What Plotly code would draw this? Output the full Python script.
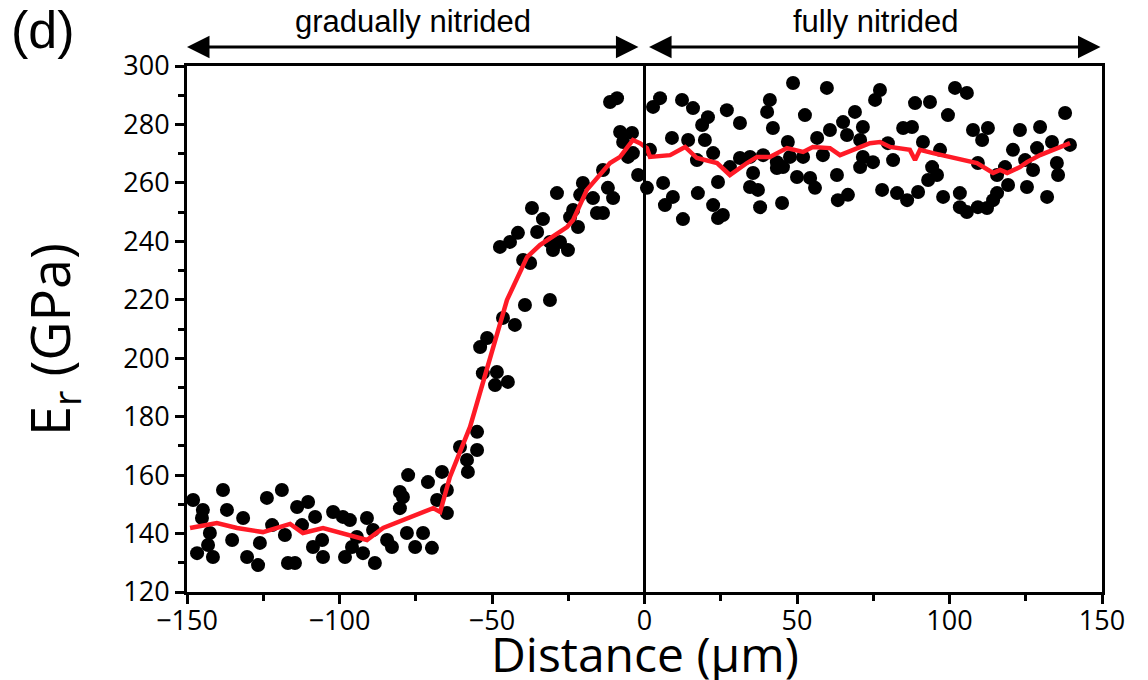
import plotly.graph_objects as go

# Scatter data: distance (µm) and reduced modulus Er (GPa)
dist = [
    -148.0, -146.7, -144.8, -145.1, -141.5, -142.5, -143.1, -138.2, -136.9, -135.2,
    -131.6, -130.3, -126.7, -126.1, -123.8, -118.9, -122.1, -117.9, -116.9, -114.6,
    -113.9, -110.3, -112.3, -108.0, -108.7, -105.7, -105.4, -102.1, -98.9, -96.6,
    -98.2, -95.9, -91.0, -94.3, -92.3, -89.0, -88.4, -84.4, -82.8, -80.2,
    -79.2, -80.2, -77.5, -77.9, -75.2, -72.6, -71.0, -69.7, -68.0, -66.4,
    -64.8, -64.8,
    -11.3, -9.0, -8.0, -4.1, -7.0, -3.8, -5.4, -2.1, 0.8, -13.6,
    -20.2, -21.1, -12.0, -10.3, -16.9, -15.6, -13.6, -23.4, -24.4, -21.8,
    -28.7, -36.9, -33.3, -35.2, -41.5, -44.1, -47.4, -31.0, -30.0, -25.1,
    -27.7, -39.8, -37.5, -39.2, -31.0, -46.4, -42.5, -51.6, -53.9, -53.0,
    -48.4, -49.0, -44.8, -54.9, -60.5, -54.9, -58.2, -57.9,
    5.1, 2.8, 12.3, 15.9, 20.8, 18.9, 27.0, 31.3, 48.7, 59.8,
    41.1, 40.2, 42.1, 52.6, 69.0, 65.1, 71.6, 60.8, 56.6, 66.4,
    9.0, 14.3, 19.8, 47.0, 1.8, 22.5, 31.3, 34.6, 38.9, 17.2,
    28.0, 43.4, 47.7, 52.0, 58.5, 70.7, 43.4, 45.4, 35.6, 50.0,
    54.3, 63.1, 6.1, 24.1, 34.6, 37.2, 55.9, 9.3, 17.5, 6.7,
    22.5, 25.7, 24.1, 12.6, 37.9, 45.1, 63.4, 66.7,
    77.2, 75.6, 88.7, 93.6, 101.8, 105.7, 99.5, 84.8, 87.7, 107.7,
    112.6, 110.7, 123.1, 129.7, 137.9, 70.7, 79.8, 91.3, 96.9, 120.8,
    128.7, 133.6, 139.5, 71.6, 74.9, 81.5, 94.3, 109.3, 118.2, 124.8,
    127.4, 135.2, 135.6, 95.9, 93.0, 115.6, 119.2, 125.4, 77.9, 82.8,
    86.1, 89.7, 97.9, 103.4, 103.4, 105.7, 109.3, 112.3, 114.3, 115.6,
    132.0,
]
modulus = [
    151.5, 133.3, 148.1, 145.3, 132.0, 140.2, 136.1, 154.9, 148.1, 137.8,
    145.3, 132.0, 129.2, 136.8, 152.2, 154.9, 142.9, 139.5, 129.9, 129.9,
    149.1, 150.8, 142.9, 145.7, 135.4, 137.8, 132.0, 147.4, 145.7, 144.6,
    132.0, 135.4, 145.3, 138.8, 133.3, 141.2, 129.9, 137.8, 135.4, 154.2,
    152.5, 148.7, 160.0, 140.2, 135.4, 140.2, 157.6, 135.1, 151.5, 161.1,
    147.0, 154.9,
    287.7, 289.0, 277.4, 277.1, 274.0, 270.2, 268.9, 262.7, 258.3, 264.4,
    260.0, 255.9, 258.3, 254.8, 254.8, 249.7, 249.7, 250.7, 248.3, 244.9,
    256.5, 251.4, 247.6, 243.2, 242.9, 239.8, 238.1, 239.8, 237.0, 237.0,
    239.8, 233.6, 232.6, 218.2, 219.9, 213.8, 211.4, 206.9, 203.8, 194.9,
    195.3, 190.8, 191.9, 174.8, 169.6, 168.6, 165.2, 161.1,
    289.0, 286.0, 288.4, 285.6, 282.5, 279.8, 284.9, 280.5, 294.2, 292.5,
    288.4, 284.3, 278.8, 283.2, 284.3, 280.8, 279.1, 278.1, 275.4, 276.4,
    275.4, 274.7, 274.7, 274.0, 271.3, 270.2, 268.5, 268.9, 269.5, 267.8,
    265.4, 267.1, 268.9, 268.9, 269.5, 265.4, 265.1, 265.4, 263.4, 262.0,
    261.7, 262.7, 260.0, 260.3, 258.6, 257.6, 258.3, 255.2, 256.5, 252.4,
    252.4, 249.0, 248.0, 247.6, 251.7, 253.1, 254.1, 255.9,
    291.8, 288.4, 287.3, 287.7, 292.5, 290.8, 283.2, 278.8, 279.1, 278.1,
    278.8, 274.7, 278.1, 279.1, 283.9, 274.7, 273.6, 274.0, 271.3, 271.3,
    271.9, 274.0, 273.0, 268.9, 267.1, 267.8, 265.4, 266.8, 265.4, 267.8,
    264.4, 266.8, 262.7, 262.7, 261.0, 262.7, 259.3, 258.6, 257.6, 256.5,
    254.1, 256.9, 255.2, 256.5, 251.7, 250.0, 251.7, 251.4, 254.1, 256.5,
    255.2,
]

# Moving-average curve (red)
avg_dist = [
    -149.0, -140.2, -133.6, -125.1, -116.2, -112.0, -105.4, -91.0, -85.7, -69.3,
    -67.0, -63.8, -57.2, -50.7, -45.1, -38.5, -34.3, -25.4, -23.4, -18.9,
    -11.3, -8.0, -3.8, -1.5, 0.8, 1.8, 8.4, 13.3, 17.2, 23.8,
    28.0, 33.6, 36.9, 41.1, 46.7, 52.0, 55.2, 60.8, 64.1, 73.9,
    77.2, 80.5, 87.0, 88.7, 90.3, 94.6, 102.5, 109.0, 114.3, 116.6,
    118.9, 123.1, 125.4, 129.7, 139.5,
]
avg_mod = [
    141.9, 143.6, 141.9, 140.5, 143.3, 140.2, 141.9, 137.8, 141.9, 148.7,
    147.4, 159.4, 176.5, 199.4, 219.9, 234.6, 238.7, 244.9, 247.3, 257.6,
    266.8, 268.9, 274.7, 273.6, 271.9, 268.9, 269.5, 272.3, 268.5, 266.8,
    262.7, 266.8, 268.9, 268.9, 271.9, 270.6, 272.3, 271.9, 269.5, 273.6,
    274.0, 272.3, 271.3, 267.8, 271.3, 270.2, 268.5, 266.8, 263.4, 264.4,
    263.4, 265.4, 267.1, 269.5, 273.6,
]

x_ticks = [-150, -100, -50, 0, 50, 100, 150]
y_ticks = [120, 140, 160, 180, 200, 220, 240, 260, 280, 300]
region_labels = ["gradually nitrided", "fully nitrided"]
region_bounds = [(-150, -1.5), (1.5, 150)]
boundary = 0
x_title = "Distance (μm)"
y_title = "E<sub>r</sub> (GPa)"

TICK_FONT = dict(family="Open Sans, Liberation Sans, sans-serif", size=27, color="black")
TITLE_FONT = dict(family="Open Sans, sans-serif", size=48, color="black")
LABEL_FONT = dict(family="Liberation Sans, Arial, sans-serif", size=31, color="black")

fig = go.Figure()
fig.add_trace(go.Scatter(
    x=dist, y=modulus, mode="markers",
    marker=dict(color="black", size=14, line=dict(width=0)),
    showlegend=False, cliponaxis=False,
))
fig.add_trace(go.Scatter(
    x=avg_dist, y=avg_mod, mode="lines",
    line=dict(color="#ff1a26", width=4.5),
    showlegend=False,
))

fig.add_shape(type="line", xref="x", yref="paper", x0=boundary, x1=boundary,
              y0=0, y1=1, line=dict(color="black", width=3))

axis_common = dict(
    showline=True, linecolor="black", linewidth=3, mirror=True,
    ticks="outside", tickcolor="black", tickwidth=3, ticklen=9,
    showgrid=False, zeroline=False, tickfont=TICK_FONT, automargin=False,
)
fig.update_xaxes(
    range=[-150, 150], tickvals=x_ticks, ticklabelstandoff=-6,
    minor=dict(dtick=25, ticks="outside", ticklen=6, tickwidth=3, tickcolor="black", showgrid=False),
    **axis_common,
)
fig.update_yaxes(
    range=[120, 300], tickvals=y_ticks,
    minor=dict(dtick=10, ticks="outside", ticklen=6, tickwidth=3, tickcolor="black", showgrid=False),
    **axis_common,
)

# axis titles as annotations for exact placement
fig.add_annotation(
    x=0.5, y=-0.052, xref="paper", yref="paper", xanchor="center", yanchor="top",
    text=x_title, showarrow=False, font=TITLE_FONT,
)
fig.add_annotation(
    x=-0.148, y=0.48, xref="paper", yref="paper", xanchor="center", yanchor="middle",
    text=y_title, showarrow=False, textangle=-90,
    font=dict(family="Open Sans, sans-serif", size=54, color="black"),
)

for label, (a, b) in zip(region_labels, region_bounds):
    fig.add_annotation(
        x=a, y=1.036, xref="x", yref="paper",
        ax=b, ay=0, axref="x", ayref="pixel",
        showarrow=True, arrowside="end+start", arrowhead=2, arrowsize=1.5,
        arrowwidth=3, arrowcolor="black", text="",
    )
    fig.add_annotation(
        x=(a + b) / 2, y=1.048, xref="x", yref="paper", yanchor="bottom",
        text=label, showarrow=False, font=LABEL_FONT,
    )

fig.add_annotation(
    x=-0.195, y=1.128, xref="paper", yref="paper", xanchor="left", yanchor="top",
    text="(d)", showarrow=False,
    font=dict(family="Liberation Sans, Arial, sans-serif", size=52, color="black"),
)

fig.update_layout(
    width=1148, height=680,
    margin=dict(l=187, r=46, t=66, b=88),
    paper_bgcolor="white", plot_bgcolor="white",
)

fig.write_html("out.html")
